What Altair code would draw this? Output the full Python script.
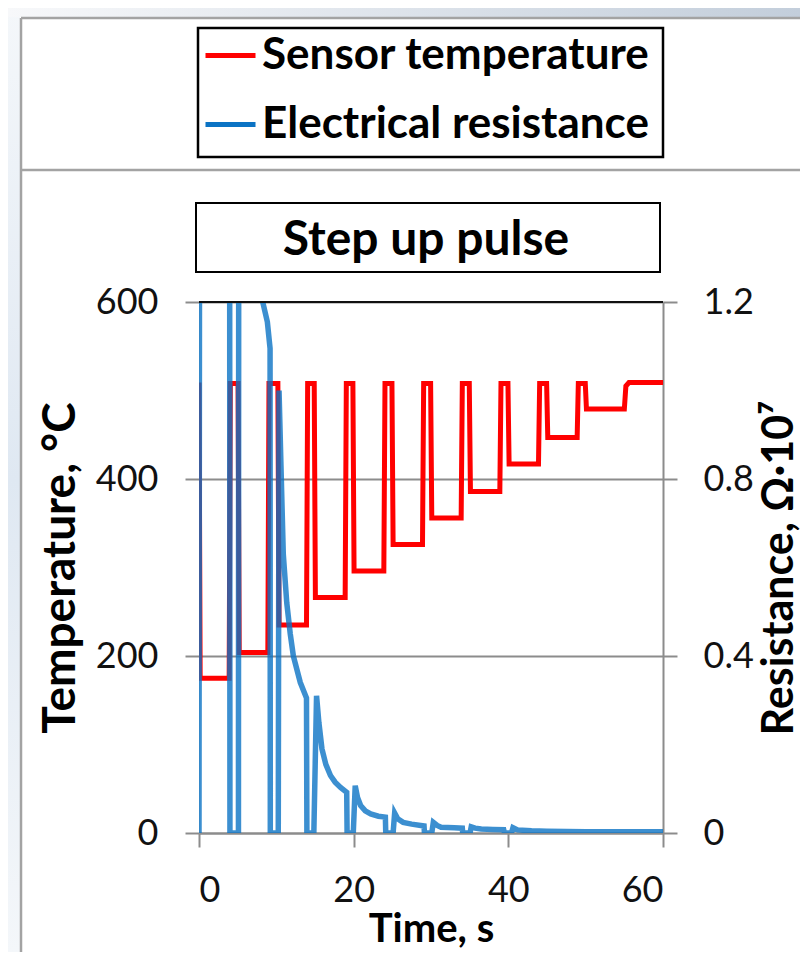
import altair as alt
import pandas as pd

# ---------------- data ----------------
series_names = ["Sensor temperature", "Electrical resistance"]
series_colors = ["#FF0000", "#0B73C4"]
chart_title = "Step up pulse"

# Sensor temperature, degC (left axis)
time_temp = [0, 0.15, 3.9, 4.05, 5.05, 5.2, 8.9, 9.05, 10.2, 10.35,
             13.9, 14.05, 14.9, 15.05, 18.9, 19.05, 19.9, 20.05,
             23.9, 24.05, 24.95, 25.1, 28.9, 29.05, 29.95, 30.1,
             33.9, 34.05, 34.95, 35.1, 38.9, 39.05, 39.95, 40.1,
             43.9, 44.05, 44.95, 45.1, 48.9, 49.05, 49.95, 50.1,
             55.0, 55.2, 55.6, 60.0]
temp_c = [509, 175, 175, 508, 508, 204, 204, 508, 508, 235,
          235, 508, 508, 266, 266, 508, 508, 296,
          296, 508, 508, 326, 326, 508, 508, 356,
          356, 508, 508, 386, 386, 508, 508, 417,
          417, 508, 508, 447, 447, 508, 508, 479,
          479, 505, 509, 509]

# Electrical resistance, Ohm*1e7 (right axis); values above 1.2 run off the chart
time_res = [0, 0.1, 3.95, 4.0, 5.1, 5.15, 8.0, 8.24, 8.84, 9.19, 9.22,
            10.25, 10.35, 10.6, 10.9, 11.35, 11.8, 12.2, 13.1, 13.9, 13.95,
            14.85, 15.2, 15.5, 15.9, 16.4, 17.0, 17.6, 18.3, 19.1, 19.15,
            19.95, 20.2, 20.5, 20.9, 21.5, 22.2, 23.2, 24.1, 24.15,
            25.1, 25.3, 25.7, 26.4, 27.5, 29.1, 29.15,
            30.1, 30.3, 30.8, 31.3, 33.0, 34.05, 34.1,
            35.05, 35.2, 35.7, 36.5, 38.0, 39.4, 39.5,
            40.4, 40.6, 41.2, 43.0, 45.0, 50.0, 55.0, 60.0]
res_1e7 = [0, 2.0, 2.0, 0, 0, 2.0, 1.35, 1.2, 1.155, 1.095, 0,
           0, 1.0, 0.83, 0.63, 0.52, 0.45, 0.40, 0.34, 0.305, 0,
           0, 0.31, 0.25, 0.19, 0.155, 0.13, 0.115, 0.103, 0.092, 0,
           0, 0.107, 0.08, 0.062, 0.05, 0.043, 0.038, 0.036, 0,
           0, 0.045, 0.032, 0.024, 0.02, 0.016, 0,
           0, 0.024, 0.017, 0.013, 0.012, 0.011, 0,
           0, 0.014, 0.011, 0.009, 0.008, 0.0075, 0,
           0, 0.012, 0.007, 0.005, 0.004, 0.003, 0.003, 0.003]

temp_df = pd.DataFrame({"t": time_temp, "v": temp_c, "series": series_names[0]})
res_df = pd.DataFrame({"t": time_res, "v": res_1e7, "series": series_names[1]})

# ---------------- style ----------------
W, H = 464, 531
FONT = "Lato"
GRAY = "#8c8c8c"
FRAME = "#a3a3a3"

one = pd.DataFrame({"k": [0]})

x_enc = alt.X(
    "t:Q",
    scale=alt.Scale(domain=[0, 60], nice=False, zero=False),
    axis=alt.Axis(
        values=[0, 20, 40, 60], title="Time, s", grid=False,
        domain=True, domainColor=GRAY, domainWidth=2,
        ticks=True, tickSize=14, tickColor=GRAY, tickWidth=2,
        labelFont=FONT, labelFontSize=36, labelColor="#111111", labelPadding=26,
        titleFont=FONT, titleFontSize=40, titleFontWeight="bold", titleColor="#000000",
        titlePadding=1,
    ),
)

color_enc = alt.Color(
    "series:N",
    scale=alt.Scale(domain=series_names, range=series_colors),
    legend=alt.Legend(
        orient="none", legendX=4, legendY=-274, title=None,
        symbolType="stroke", symbolSize=2500, symbolStrokeWidth=5,
        labelFont=FONT, labelFontSize=44, labelFontWeight="bold", labelColor="#000000",
        labelOffset=4, rowPadding=19, padding=0, labelLimit=1000,
    ),
)

temp_line = alt.Chart(temp_df).mark_line(strokeWidth=5, clip=True).encode(
    x=x_enc,
    y=alt.Y(
        "v:Q",
        scale=alt.Scale(domain=[0, 600], nice=False),
        axis=alt.Axis(
            orient="left", values=[0, 200, 400, 600], title="Temperature, °C",
            grid=True, gridColor=GRAY, gridWidth=2,
            domain=False, ticks=True, tickSize=14, tickColor=GRAY, tickWidth=2,
            labelFont=FONT, labelFontSize=36, labelColor="#111111", labelPadding=27,
            titleFont=FONT, titleFontSize=46, titleFontWeight="bold", titleColor="#000000",
            titleX=-115, titleY=H / 2, titleBaseline="bottom",
        ),
    ),
    color=color_enc,
)

res_line = alt.Chart(res_df).mark_line(strokeWidth=5.5, strokeOpacity=0.8, clip=True).encode(
    x=x_enc,
    y=alt.Y(
        "v:Q",
        scale=alt.Scale(domain=[0, 1.2], nice=False),
        axis=alt.Axis(
            orient="right", values=[0, 0.4, 0.8, 1.2], title="Resistance, Ω·10⁷",
            labelExpr="datum.value == 0 ? '0' : format(datum.value, '.1f')",
            grid=False, domain=True, domainColor=GRAY, domainWidth=2,
            ticks=True, tickSize=14, tickColor=GRAY, tickWidth=2,
            labelFont=FONT, labelFontSize=36, labelColor="#111111", labelPadding=26,
            titleFont=FONT, titleFontSize=43, titleFontWeight="bold", titleColor="#000000",
            titleAngle=270, titleX=95, titleY=H / 2, titleBaseline="top",
        ),
    ),
    color=color_enc,
)

# black top edge of the plot area
top_edge = alt.Chart(one).mark_rule(color="#111111", strokeWidth=2).encode(
    x=alt.value(0), x2=alt.value(W), y=alt.value(0)
)

# slide background strips and frame
left_strip = alt.Chart(one).mark_rect(
    fill=alt.LinearGradient(
        gradient="linear", x1=0, y1=0, x2=0, y2=1,
        stops=[alt.GradientStop(color="#f4f7fa", offset=0),
               alt.GradientStop(color="#dfe8f2", offset=0.5),
               alt.GradientStop(color="#f4f7fa", offset=1)],
    )
).encode(x=alt.value(-191), x2=alt.value(-179), y=alt.value(-294), y2=alt.value(H + 119))

top_strip = alt.Chart(one).mark_rect(
    fill=alt.LinearGradient(
        gradient="linear", x1=0, y1=0, x2=1, y2=0,
        stops=[alt.GradientStop(color="#f7f8fa", offset=0),
               alt.GradientStop(color="#c3cedb", offset=1)],
    )
).encode(x=alt.value(-191), x2=alt.value(W + 137), y=alt.value(-294), y2=alt.value(-285))

frame_left = alt.Chart(one).mark_rule(color=FRAME, strokeWidth=2.5).encode(
    x=alt.value(-178), y=alt.value(-284), y2=alt.value(H + 119)
)
frame_top = alt.Chart(one).mark_rule(color=FRAME, strokeWidth=2.5).encode(
    x=alt.value(-178), x2=alt.value(W + 137), y=alt.value(-284)
)
frame_mid = alt.Chart(one).mark_rule(color=FRAME, strokeWidth=2.5).encode(
    x=alt.value(-178), x2=alt.value(W + 137), y=alt.value(-132)
)

legend_box = alt.Chart(one).mark_rect(fill="white", stroke="#000000", strokeWidth=2.5).encode(
    x=alt.value(-1), x2=alt.value(464), y=alt.value(-274), y2=alt.value(-145)
)
title_box = alt.Chart(one).mark_rect(fill="white", stroke="#000000", strokeWidth=2).encode(
    x=alt.value(-3), x2=alt.value(461), y=alt.value(-99), y2=alt.value(-30)
)
title_text = alt.Chart(pd.DataFrame({"label": [chart_title]})).mark_text(
    font=FONT, fontSize=48, fontWeight="bold", color="#000000",
    align="center", baseline="alphabetic",
).encode(x=alt.value(227), y=alt.value(-47), text="label:N")

chart = alt.layer(
    left_strip, top_strip, frame_left, frame_top, frame_mid,
    legend_box, title_box, title_text,
    temp_line, res_line, top_edge,
).resolve_scale(
    y="independent"
).properties(
    width=W, height=H,
    autosize=alt.AutoSizeParams(type="none"),
    padding={"left": 191, "top": 294, "right": 137, "bottom": 119},
).configure_view(
    stroke=None
).configure(
    background="white"
)

chart.save("out.html", embed_options={"renderer": "svg", "actions": False})
